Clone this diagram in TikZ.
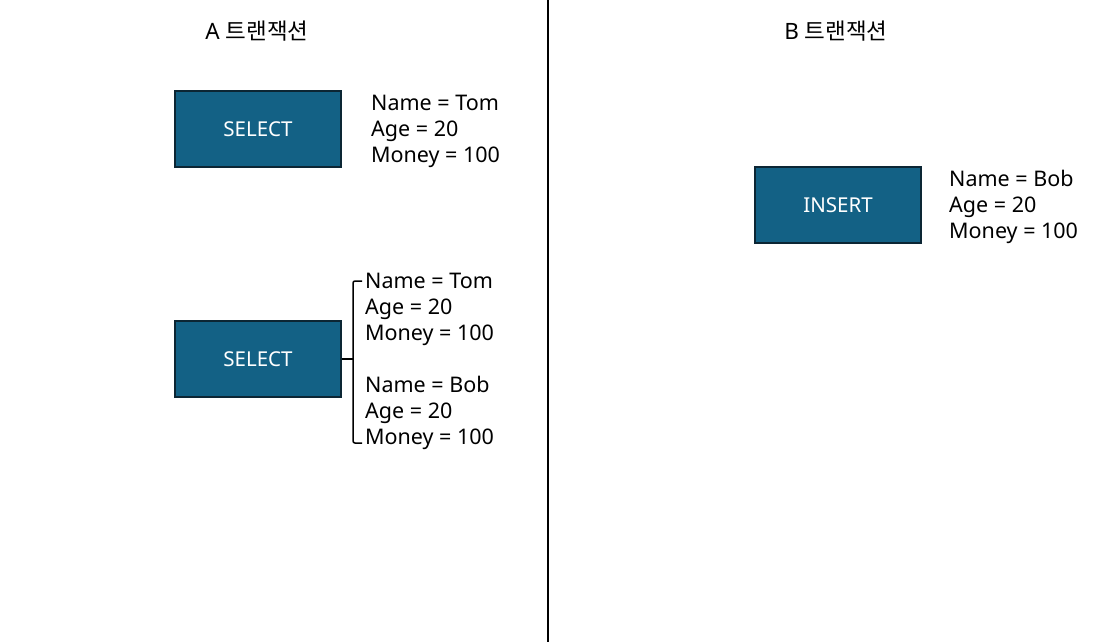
\documentclass[tikz,border=0pt]{standalone}
\usepackage{fontspec}
\setmainfont{Noto Sans}
\newfontfamily\krfont{Noto Sans CJK KR}
\usetikzlibrary{positioning}
\definecolor{boxblue}{RGB}{19,97,133}
\definecolor{boxedge}{RGB}{12,38,52}

\begin{document}
\begin{tikzpicture}[x=1pt,y=-1pt,
    query/.style={draw=boxedge,line width=1.5pt,fill=boxblue,text=white,minimum width=166pt,minimum height=76pt,inner sep=0pt,font=\fontsize{20.5}{22}\selectfont},
    rows/.style={align=left,anchor=west,inner sep=0pt,font=\fontsize{21.5}{26}\selectfont},
    title/.style={font=\fontsize{22.5}{24}\selectfont}]
    \useasboundingbox (0,0) rectangle (1112,642);
    % divider between the two transactions
    \draw[line width=1.8pt] (548,0) -- (548,642);

    \node[title] (titleA) at (257,31) {A {\krfont 트랜잭션}};
    \node[title] (titleB) at (836,31) {B {\krfont 트랜잭션}};

    % A: first read
    \node[query] (selA) at (258,129) {SELECT};
    \node[rows] (rowsA) at (371,131) {Name = Tom\\Age = 20\\Money = 100};

    % A: second read
    \node[query] (selB) at (258,359) {SELECT};
    \node[rows] (rowsB) at (365,361) {Name = Tom\\Age = 20\\Money = 100\\[26pt]Name = Bob\\Age = 20\\Money = 100};
    \coordinate (braceTop) at (353,281);
    \coordinate (braceBot) at (353,443);
    \draw[line width=1.5pt,rounded corners=2pt] ([xshift=9pt]braceTop) -- (braceTop) -- (braceBot) -- ([xshift=9pt]braceBot);
    \draw[line width=1.5pt] (selB.east) -- (selB.east -| braceTop);

    % B: insert
    \node[query] (insB) at (838,205) {INSERT};
    \node[rows] (rowsB2) at (949,207) {Name = Bob\\Age = 20\\Money = 100};
\end{tikzpicture}
\end{document}
